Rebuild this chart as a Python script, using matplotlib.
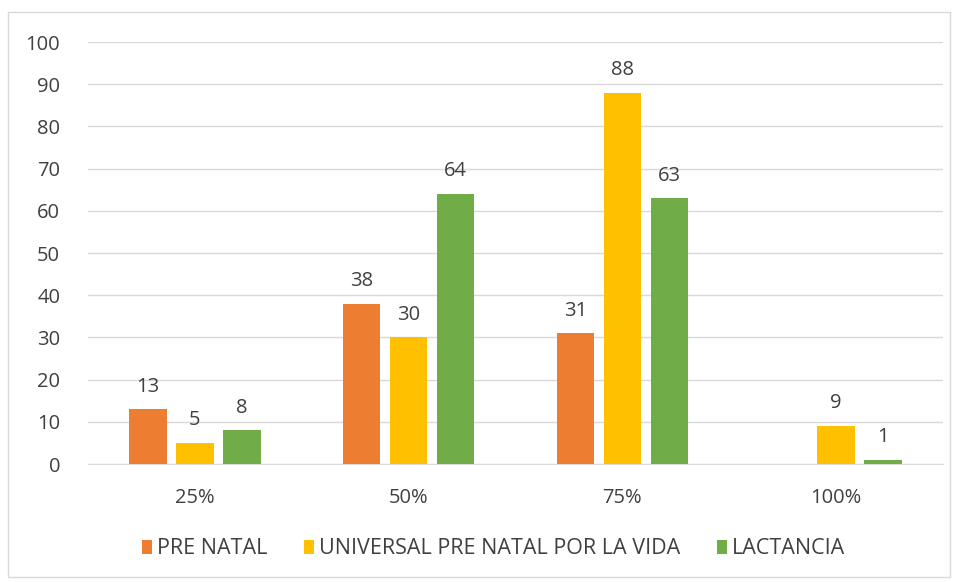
import matplotlib.pyplot as plt
import numpy as np
from matplotlib.patches import Rectangle

categories = ["25%", "50%", "75%", "100%"]
series_names = ["PRE NATAL", "UNIVERSAL PRE NATAL POR LA VIDA", "LACTANCIA"]
pre_natal = [13, 38, 31, np.nan]
universal = [5, 30, 88, 9]
lactancia = [8, 64, 63, 1]
colors = ["#ED7D31", "#FFC000", "#70AD47"]

plt.rcParams['font.family'] = ['Open Sans', 'DejaVu Sans']
text_color = "#404040"
fs = 14.5

fig = plt.figure(figsize=(9.54, 5.82), dpi=100)
ax = fig.add_axes([0.0922, 0.2027, 0.8963, 0.7251])

x = np.arange(len(categories))
width = 0.175
offset = 0.22
for k, (vals, name, c) in enumerate(zip([pre_natal, universal, lactancia], series_names, colors)):
    pos = x + (k - 1) * offset
    ax.bar(pos, vals, width, color=c, label=name, zorder=3)
    for p, v in zip(pos, vals):
        if np.isnan(v):
            continue
        ax.text(p, v + 3, f"{v:.0f}", ha="center", va="bottom",
                fontsize=fs, color=text_color)

ax.set_ylim(0, 100)
ax.set_yticks(range(0, 101, 10))
ax.set_xlim(-0.5, len(categories) - 0.5)
ax.set_xticks(x)
ax.set_xticklabels(categories)
ax.tick_params(axis="both", length=0, labelsize=fs, colors=text_color)
ax.tick_params(axis="y", pad=20)
ax.tick_params(axis="x", pad=17)
ax.yaxis.grid(True, color="#D9D9D9", linewidth=1, zorder=0)
for s in ["top", "right", "left"]:
    ax.spines[s].set_visible(False)
ax.spines["bottom"].set_color("#D9D9D9")

ax.legend(loc="center", bbox_to_anchor=(0.474, -0.201), ncol=3, frameon=False,
          fontsize=15.5, handlelength=0.5, handleheight=0.6, columnspacing=1.7,
          handletextpad=0.2, labelcolor=text_color)

fig.patches.append(Rectangle((8 / 954, 5 / 582), 942 / 954, 565 / 582,
                             transform=fig.transFigure, fill=False,
                             edgecolor="#D9D9D9", linewidth=1))

fig.savefig("out.png", dpi=100)
